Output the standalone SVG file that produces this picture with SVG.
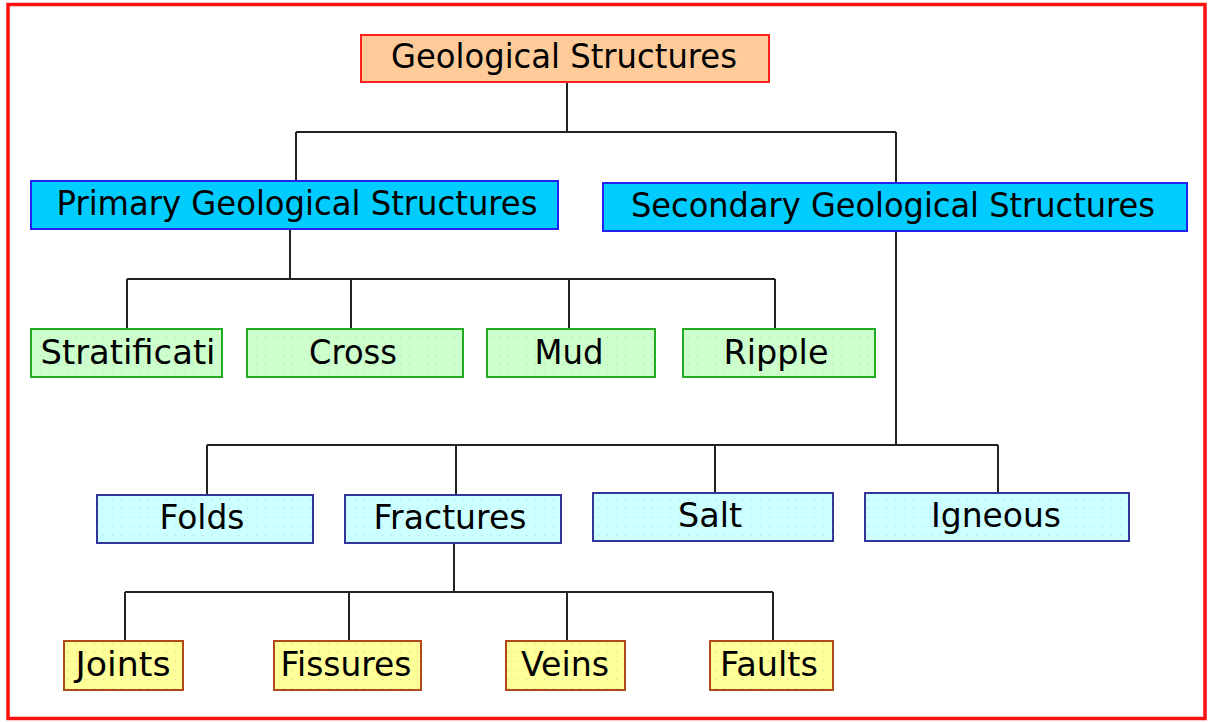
<svg xmlns="http://www.w3.org/2000/svg" width="1211" height="722" viewBox="0 0 1211 722">
<defs>
<pattern id="dots" width="9" height="9" patternUnits="userSpaceOnUse">
<circle cx="4.5" cy="4.5" r="0.8" fill="#999999" fill-opacity="0.35"/>
</pattern>
<style>
text{font-family:"DejaVu Sans","Verdana",sans-serif;font-size:33px;fill:#000;text-anchor:middle}
.conn{stroke:#222;stroke-width:2;fill:none}
.root{fill:#FFCC99;stroke:#FF2020;stroke-width:2}
.main{fill:#00CCFF;stroke:#2222EE;stroke-width:2}
.green{fill:#CCFFCC;stroke:#22AA22;stroke-width:2}
.cyan{fill:#CCFFFF;stroke:#333399;stroke-width:2}
.yellow{fill:#FFFF99;stroke:#B04A1A;stroke-width:2}
.dot{fill:url(#dots);stroke:none}
</style>
</defs>
<rect width="1211" height="722" fill="#fff"/>
<rect x="8" y="4.5" width="1197" height="714" fill="none" stroke="#FF1010" stroke-width="3.5"/>
<g id="connectors">
<path class="conn" d="M567 82V132M296 132H896M296 132V181M896 132V183"/>
<path class="conn" d="M290 229V279M127 279H775M127 279V329M351 279V329M569 279V329M775 279V329"/>
<path class="conn" d="M896 231V445M207 445H998M207 445V495M456 445V495M715 445V493M998 445V493"/>
<path class="conn" d="M454 543V592M125 592H773M125 592V641M349 592V641M567 592V641M773 592V641"/>
</g>
<g id="root"><rect class="root" x="361" y="35" width="408" height="47"/><rect class="dot" x="361" y="35" width="408" height="47"/><text x="564" y="68" textLength="346" lengthAdjust="spacingAndGlyphs">Geological Structures</text></g>
<g id="primary"><rect class="main" x="31" y="181" width="527" height="48"/><text x="297" y="215" textLength="481" lengthAdjust="spacingAndGlyphs">Primary Geological Structures</text></g>
<g id="secondary"><rect class="main" x="603" y="183" width="584" height="48"/><text x="893" y="217" textLength="524" lengthAdjust="spacingAndGlyphs">Secondary Geological Structures</text></g>
<g id="stratification"><rect class="green" x="31" y="329" width="191" height="48"/><rect class="dot" x="31" y="329" width="191" height="48"/><text x="128" y="364" textLength="175" lengthAdjust="spacingAndGlyphs">Stratificati</text></g>
<g id="cross"><rect class="green" x="247" y="329" width="216" height="48"/><rect class="dot" x="247" y="329" width="216" height="48"/><text x="353" y="364" textLength="88" lengthAdjust="spacingAndGlyphs">Cross</text></g>
<g id="mud"><rect class="green" x="487" y="329" width="168" height="48"/><rect class="dot" x="487" y="329" width="168" height="48"/><text x="569" y="364" textLength="69" lengthAdjust="spacingAndGlyphs">Mud</text></g>
<g id="ripple"><rect class="green" x="683" y="329" width="192" height="48"/><rect class="dot" x="683" y="329" width="192" height="48"/><text x="776" y="364" textLength="105" lengthAdjust="spacingAndGlyphs">Ripple</text></g>
<g id="folds"><rect class="cyan" x="97" y="495" width="216" height="48"/><rect class="dot" x="97" y="495" width="216" height="48"/><text x="202" y="529" textLength="85" lengthAdjust="spacingAndGlyphs">Folds</text></g>
<g id="fractures"><rect class="cyan" x="345" y="495" width="216" height="48"/><rect class="dot" x="345" y="495" width="216" height="48"/><text x="450" y="529" textLength="153" lengthAdjust="spacingAndGlyphs">Fractures</text></g>
<g id="salt"><rect class="cyan" x="593" y="493" width="240" height="48"/><rect class="dot" x="593" y="493" width="240" height="48"/><text x="710" y="527" textLength="64" lengthAdjust="spacingAndGlyphs">Salt</text></g>
<g id="igneous"><rect class="cyan" x="865" y="493" width="264" height="48"/><rect class="dot" x="865" y="493" width="264" height="48"/><text x="996" y="527" textLength="130" lengthAdjust="spacingAndGlyphs">Igneous</text></g>
<g id="joints"><rect class="yellow" x="64" y="641" width="119" height="49"/><rect class="dot" x="64" y="641" width="119" height="49"/><text x="123" y="676" textLength="95" lengthAdjust="spacingAndGlyphs">Joints</text></g>
<g id="fissures"><rect class="yellow" x="274" y="641" width="147" height="49"/><rect class="dot" x="274" y="641" width="147" height="49"/><text x="346" y="676" textLength="131" lengthAdjust="spacingAndGlyphs">Fissures</text></g>
<g id="veins"><rect class="yellow" x="506" y="641" width="119" height="49"/><rect class="dot" x="506" y="641" width="119" height="49"/><text x="565" y="676" textLength="88" lengthAdjust="spacingAndGlyphs">Veins</text></g>
<g id="faults"><rect class="yellow" x="710" y="641" width="123" height="49"/><rect class="dot" x="710" y="641" width="123" height="49"/><text x="769" y="676" textLength="98" lengthAdjust="spacingAndGlyphs">Faults</text></g>
</svg>
